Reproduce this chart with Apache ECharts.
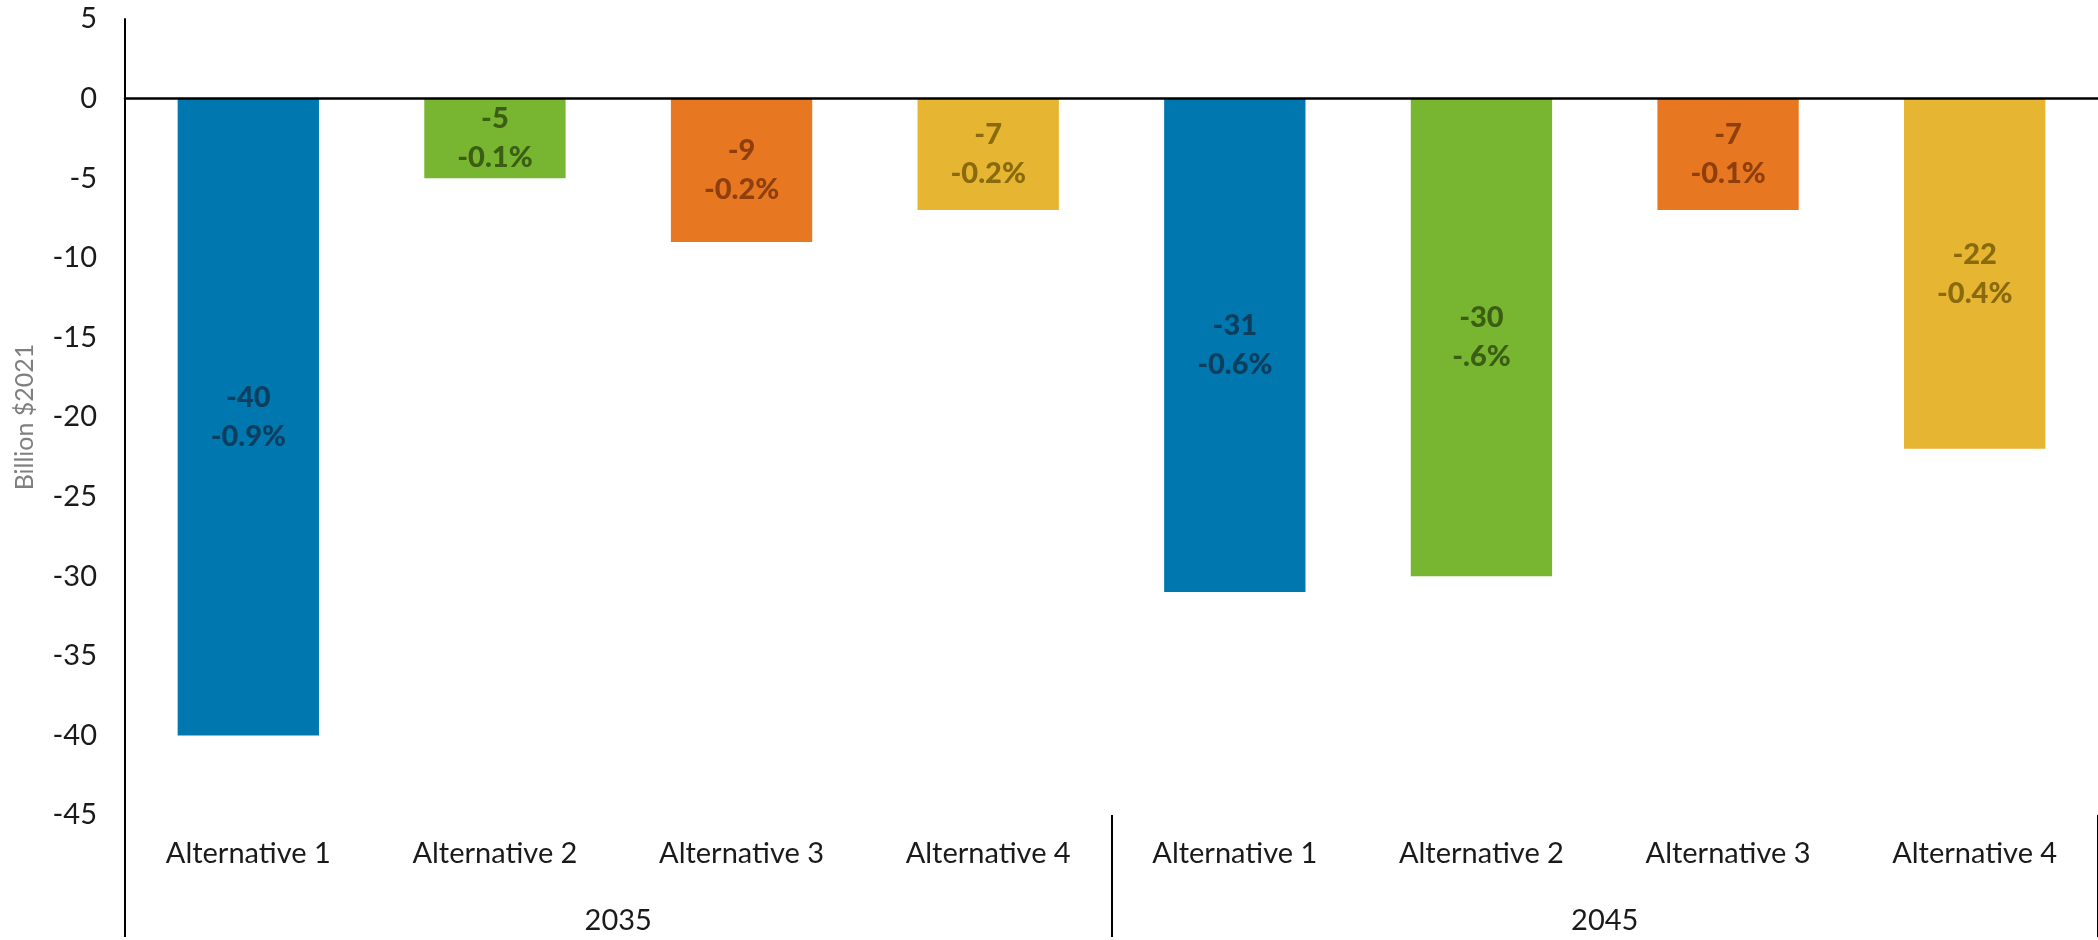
<!DOCTYPE html>
<html>
<head>
<meta charset="utf-8">
<script src="https://cdn.jsdelivr.net/npm/echarts@6/dist/echarts.min.js"></script>
<style>
  html, body { margin: 0; padding: 0; background: #ffffff; }
  #chart { width: 2098px; height: 940px; }
</style>
</head>
<body>
<div id="chart"></div>
<script>
// Change in value by alternative, two horizon years
const alternatives = ['Alternative 1', 'Alternative 2', 'Alternative 3', 'Alternative 4',
                      'Alternative 1', 'Alternative 2', 'Alternative 3', 'Alternative 4'];
const years = ['2035', '2045'];
const values = [-40, -5, -9, -7, -31, -30, -7, -22];
const percentLabels = ['-0.9%', '-0.1%', '-0.2%', '-0.2%', '-0.6%', '-.6%', '-0.1%', '-0.4%'];
const yTicks = { min: -45, max: 5, interval: 5 };

// One fill and one label colour per alternative, repeated for each year
const barColors = ['#0077AE', '#78B530', '#E87722', '#E6B531'];
const labelColors = ['#0C3F5E', '#3B5E14', '#8E3F0C', '#8A6A0E'];

const FONT = 'Lato, "Open Sans", sans-serif';
const AXIS_LEFT = 125;
const PLOT_WIDTH = 1986;

const barData = values.map((v, i) => ({
  value: v,
  itemStyle: { color: barColors[i % 4] },
  label: { color: labelColors[i % 4] }
}));

const chart = echarts.init(document.getElementById('chart'), null, { renderer: 'canvas' });

chart.setOption({
  animation: false,
  backgroundColor: '#ffffff',
  grid: { left: AXIS_LEFT, top: 19, width: PLOT_WIDTH, height: 796, containLabel: false },
  xAxis: [
    {
      // alternative names under the plot
      type: 'category',
      data: alternatives,
      position: 'bottom',
      axisLine: { show: false, onZero: false },
      axisTick: { show: false },
      axisLabel: { margin: 24, fontFamily: FONT, fontSize: 29, color: '#1a1a1a', interval: 0 }
    },
    {
      // year groups with divider ticks
      type: 'category',
      data: years,
      position: 'bottom',
      axisLine: { show: false, onZero: false },
      axisTick: { show: true, length: 122, interval: 0, lineStyle: { color: '#000000', width: 2 } },
      axisLabel: { margin: 91, fontFamily: FONT, fontSize: 29, color: '#1a1a1a', interval: 0 }
    },
    {
      // baseline at zero
      type: 'category',
      data: alternatives,
      position: 'bottom',
      z: 5,
      axisLine: { show: true, onZero: true, lineStyle: { color: '#000000', width: 2.5 } },
      axisTick: { show: false },
      axisLabel: { show: false }
    }
  ],
  yAxis: {
    type: 'value',
    min: yTicks.min,
    max: yTicks.max,
    interval: yTicks.interval,
    name: 'Billion $2021',
    nameLocation: 'middle',
    nameRotate: 90,
    nameGap: 88,
    nameTextStyle: { fontFamily: FONT, fontSize: 25, color: '#7f7f7f' },
    axisLine: { show: true, lineStyle: { color: '#000000', width: 2 } },
    axisTick: { show: false },
    splitLine: { show: false },
    axisLabel: { margin: 28, fontFamily: FONT, fontSize: 29, color: '#1a1a1a' }
  },
  series: [
    {
      type: 'bar',
      xAxisIndex: 0,
      data: barData,
      barWidth: '57.3%',
      label: {
        show: true,
        position: 'inside',
        fontFamily: FONT,
        fontSize: 29,
        fontWeight: 900,
        lineHeight: 39,
        formatter: (p) => p.value + '\n' + percentLabels[p.dataIndex]
      }
    }
  ]
});
</script>
</body>
</html>
